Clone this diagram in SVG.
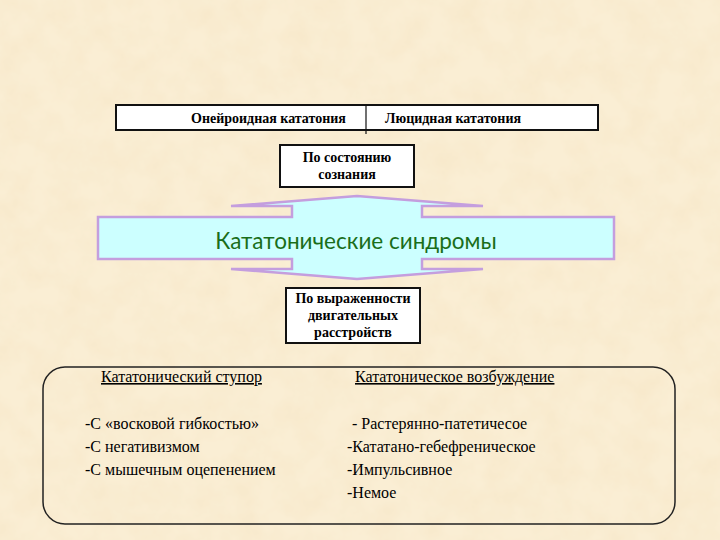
<svg xmlns="http://www.w3.org/2000/svg" width="720" height="540" viewBox="0 0 720 540">
  <style>
    .bx { fill: #ffffff; stroke: #111111; stroke-width: 2; }
    .lbl { font-family: "Liberation Serif", "Times New Roman", serif; font-weight: bold; font-size: 14px; fill: #000000; }
    .body { font-family: "Liberation Serif", "Times New Roman", serif; font-size: 16px; fill: #000000; }
    .title { font-family: "Lato", "Noto Sans", sans-serif; font-size: 22.5px; fill: #1a6e1a; }
  </style>
  <defs>
    <filter id="parch" x="0" y="0" width="100%" height="100%">
      <feTurbulence type="fractalNoise" baseFrequency="0.035" numOctaves="4" seed="7" result="n"/>
      <feColorMatrix in="n" type="matrix" values="0 0 0 0 0.93  0 0 0 0 0.80  0 0 0 0 0.58  1.3 0 0 0 -0.42"/>
    </filter>
  </defs>

  <g id="background">
    <rect x="0" y="0" width="720" height="540" fill="#faeed4"/>
    <rect x="0" y="0" width="720" height="540" filter="url(#parch)"/>
  </g>

  <g id="connectors">
    <line x1="366" y1="105" x2="366" y2="134" stroke="#111111" stroke-width="1.2"/>
  </g>

  <g id="node-top-table">
    <rect class="bx" x="116" y="105" width="482" height="25"/>
    <line x1="366" y1="105" x2="366" y2="130" stroke="#111111" stroke-width="1.2"/>
    <text class="lbl" x="191" y="122.5">Онейроидная кататония</text>
    <text class="lbl" x="385" y="122.5">Люцидная кататония</text>
  </g>

  <g id="node-consciousness">
    <rect class="bx" x="280" y="145" width="134" height="42"/>
    <text class="lbl" x="347" y="162" text-anchor="middle">По состоянию</text>
    <text class="lbl" x="347" y="179" text-anchor="middle">сознания</text>
  </g>

  <g id="node-syndromes">
    <polygon points="231,206 292,206 292,217 98,217 98,259 292,259 292,269 231,269 357,279 483,269 422,269 422,259 614,259 614,217 422,217 422,206 483,206 357,196" fill="#ccffff" stroke="#c49ede" stroke-width="2.5" stroke-linejoin="miter"/>
    <text class="title" x="356" y="248.5" text-anchor="middle">Кататонические синдромы</text>
  </g>

  <g id="node-motor">
    <rect class="bx" x="286" y="288" width="134" height="55"/>
    <text class="lbl" x="353" y="303" text-anchor="middle">По выраженности</text>
    <text class="lbl" x="353" y="320" text-anchor="middle">двигательных</text>
    <text class="lbl" x="353" y="337" text-anchor="middle">расстройств</text>
  </g>

  <g id="node-types">
    <rect x="43" y="367" width="632" height="157" rx="22" ry="22" fill="none" stroke="#222222" stroke-width="1.5"/>
    <text class="body" x="101" y="382" text-decoration="underline">Кататонический ступор</text>
    <text class="body" x="355" y="382" text-decoration="underline">Кататоническое возбуждение</text>
    <text class="body" x="85" y="429">-С «восковой гибкостью»</text>
    <text class="body" x="85" y="452">-С негативизмом</text>
    <text class="body" x="85" y="475">-С мышечным оцепенением</text>
    <text class="body" x="352" y="429">- Растерянно-патетичесое</text>
    <text class="body" x="347" y="452">-Кататано-гебефреническое</text>
    <text class="body" x="347" y="475">-Импульсивное</text>
    <text class="body" x="347" y="498">-Немое</text>
  </g>
</svg>
